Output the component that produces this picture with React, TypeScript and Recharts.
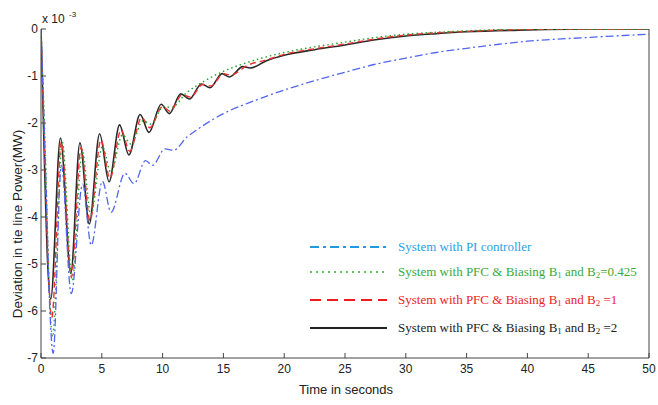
import React from 'react';
import { LineChart, Line, XAxis, YAxis, Legend } from 'recharts';

if (typeof document !== 'undefined') {
  document.body.style.margin = '0';
  document.body.style.overflow = 'hidden';
}

// Time (s) and deviation (x10^-3 MW)
const blackT = [0, 0.3, 0.55, 0.8, 1.6, 2.45, 3.2, 3.97, 4.82, 5.6, 6.46, 7.23, 8.15, 8.88, 9.88, 10.55, 11.5, 12.2, 13.2, 13.9, 14.9, 15.5, 16.6, 17.2, 18.5, 20, 22.5, 25, 27.5, 30, 32.5, 35, 40, 45, 50];
const blackV = [0, -3.0, -5.0, -5.75, -2.32, -5.2, -2.42, -4.15, -2.23, -3.25, -2.04, -2.68, -1.82, -2.2, -1.6, -1.8, -1.38, -1.49, -1.17, -1.25, -0.95, -1.02, -0.8, -0.83, -0.68, -0.56, -0.44, -0.34, -0.23, -0.15, -0.1, -0.06, -0.02, 0, 0];

const redT = [0, 0.35, 0.6, 0.88, 1.68, 2.5, 3.3, 4.03, 4.93, 5.67, 6.58, 7.3, 8.28, 8.95, 10.0, 10.62, 11.6, 12.3, 13.3, 14.0, 15.0, 15.6, 17.0, 18.5, 20, 22.5, 25, 27.5, 30, 32.5, 35, 40, 45, 50];
const redV = [0, -3.0, -5.1, -6.15, -2.4, -5.28, -2.52, -4.08, -2.36, -3.18, -2.15, -2.6, -1.88, -2.1, -1.65, -1.75, -1.4, -1.45, -1.18, -1.21, -0.95, -0.98, -0.77, -0.66, -0.54, -0.42, -0.32, -0.21, -0.13, -0.08, -0.05, -0.01, 0, 0];

const greenT = [0, 0.4, 0.65, 0.95, 1.75, 2.57, 3.4, 4.1, 5.05, 5.75, 6.7, 7.4, 8.4, 9.0, 10.1, 10.7, 12.0, 13.5, 15.0, 17.0, 20, 22.5, 25, 27.5, 30, 32.5, 35, 40, 45, 50];
const greenV = [0, -3.0, -5.3, -6.55, -2.4, -5.35, -2.6, -3.95, -2.5, -3.05, -2.25, -2.45, -1.95, -2.02, -1.65, -1.67, -1.35, -1.1, -0.9, -0.71, -0.5, -0.38, -0.28, -0.18, -0.11, -0.07, -0.04, 0, 0, 0];

const blueT = [0, 0.4, 0.7, 1.0, 1.67, 2.49, 3.42, 4.13, 5.05, 5.76, 6.9, 7.65, 8.6, 9.18, 10.2, 10.9, 12.0, 12.9, 15, 17.5, 20, 22.5, 25, 27.5, 30, 32.5, 35, 37.5, 40, 45, 50];
const blueV = [0, -3.2, -5.8, -6.9, -2.9, -5.63, -3.3, -4.6, -3.24, -3.9, -3.07, -3.29, -2.8, -2.9, -2.55, -2.58, -2.3, -2.13, -1.8, -1.53, -1.3, -1.1, -0.92, -0.75, -0.62, -0.5, -0.41, -0.33, -0.26, -0.18, -0.11];

const xTicks = [0, 5, 10, 15, 20, 25, 30, 35, 40, 45, 50];
const yTicks = [-7, -6, -5, -4, -3, -2, -1, 0];

const legendLabels = [
  'System with PI controller',
  'System with PFC & Biasing B1 and B2=0.425',
  'System with PFC & Biasing B1 and B2 =1',
  'System with PFC & Biasing B1 and B2 =2',
];

const toRows = (ts: number[], vs: number[]) => ts.map((t, i) => ({ t, v: vs[i] }));

const blackData = toRows(blackT, blackV);
const redData = toRows(redT, redV);
const greenData = toRows(greenT, greenV);
const blueData = toRows(blueT, blueV);

const legendStyles = [
  { line: '#1f9be3', text: '#2aa2e6', dash: '9 4 3 4', w: 2 },
  { line: '#2fae2f', text: '#3aaa3a', dash: '2 4', w: 1.5 },
  { line: '#ee1c1c', text: '#ee2222', dash: '11 6', w: 2.2 },
  { line: '#222222', text: '#222222', dash: undefined, w: 2.2 },
];

const renderLabel = (s: string) => {
  const parts = s.split(/B(\d)/);
  const out: React.ReactNode[] = [];
  let lowered = false;
  parts.forEach((p, i) => {
    if (i % 2 === 0) {
      if (p) {
        out.push(
          <tspan key={i} dy={lowered ? -2 : undefined}>
            {p}
          </tspan>
        );
        lowered = false;
      }
    } else {
      out.push(
        <tspan key={i + 'b'} dy={lowered ? -2 : undefined}>
          B
        </tspan>
      );
      out.push(
        <tspan key={i + 's'} fontSize={9} dy={2}>
          {p}
        </tspan>
      );
      lowered = true;
    }
  });
  return out;
};

const LegendBox = () => {
  const rowsY = [14, 39, 67, 95];
  return (
    <svg width={350} height={110}>
      {legendLabels.map((lab, i) => {
        const st = legendStyles[i];
        return (
          <g key={i}>
            <line x1={2} x2={79} y1={rowsY[i]} y2={rowsY[i]} stroke={st.line} strokeWidth={st.w} strokeDasharray={st.dash} />
            <text x={90} y={rowsY[i] + 4} fill={st.text} fontFamily="'Liberation Serif', serif" fontSize={13}>
              {renderLabel(lab)}
            </text>
          </g>
        );
      })}
    </svg>
  );
};

export default function App() {
  const font = "'Liberation Sans', Arial, sans-serif";
  const axisColor = '#444444';
  return (
    <div style={{ position: 'relative', width: 658, height: 405 }}>
      <LineChart width={658} height={405} margin={{ top: 29, right: 0, bottom: 0, left: 8 }}>
        <XAxis
          dataKey="t"
          type="number"
          domain={[0, 50]}
          ticks={xTicks}
          interval={0}
          allowDataOverflow
          height={47}
          tickSize={-5}
          tickMargin={11}
          stroke={axisColor}
          tick={{ fill: '#222', fontSize: 12, fontFamily: font }}
        />
        <XAxis
          xAxisId="top"
          orientation="top"
          dataKey="t"
          type="number"
          domain={[0, 50]}
          ticks={xTicks}
          interval={0}
          height={0}
          tickSize={-5}
          tickFormatter={() => ''}
          stroke={axisColor}
        />
        <YAxis
          type="number"
          domain={[-7, 0]}
          ticks={yTicks}
          interval={0}
          allowDataOverflow
          width={33}
          tickSize={-5}
          tickMargin={8}
          stroke={axisColor}
          tick={{ fill: '#222', fontSize: 12, fontFamily: font }}
        />
        <YAxis
          yAxisId="right"
          orientation="right"
          type="number"
          domain={[-7, 0]}
          ticks={yTicks}
          interval={0}
          width={9}
          tickSize={-5}
          tickFormatter={() => ''}
          stroke={axisColor}
        />
        <Legend
          layout="vertical"
          align="center"
          verticalAlign="middle"
          content={() => <LegendBox />}
          wrapperStyle={{ position: 'absolute', left: 308, top: 233, width: 350, height: 110 }}
        />
        <Line data={blackData} dataKey="v" type="monotone" stroke="#2a2a2a" strokeWidth={1.6} dot={false} isAnimationActive={false} name="S4" />
        <Line data={redData} dataKey="v" type="monotone" stroke="#f03030" strokeWidth={1.4} strokeDasharray="6 4" dot={false} isAnimationActive={false} name="S3" />
        <Line data={greenData} dataKey="v" type="monotone" stroke="#2aa02a" strokeWidth={1.4} strokeDasharray="1.5 3" dot={false} isAnimationActive={false} name="S2" />
        <Line data={blueData} dataKey="v" type="monotone" stroke="#5266f0" strokeWidth={1.3} strokeDasharray="8 3 2 3" dot={false} isAnimationActive={false} name="S1" />
      </LineChart>
      <svg width={658} height={405} style={{ position: 'absolute', left: 0, top: 0, pointerEvents: 'none' }}>
        <text x={42} y={23} fontFamily={font} fontSize={12} fill="#222">x 10</text>
        <text x={69} y={17} fontFamily={font} fontSize={8} fill="#222">-3</text>
        <text
          x={0}
          y={0}
          transform="translate(22,224) rotate(-90)"
          textAnchor="middle"
          fontFamily={font}
          fontSize={13.5}
          fill="#222"
        >
          Deviation in tie line Power(MW)
        </text>
        <text x={346} y={394} textAnchor="middle" fontFamily={font} fontSize={13} fill="#222">
          Time in seconds
        </text>
      </svg>
    </div>
  );
}
